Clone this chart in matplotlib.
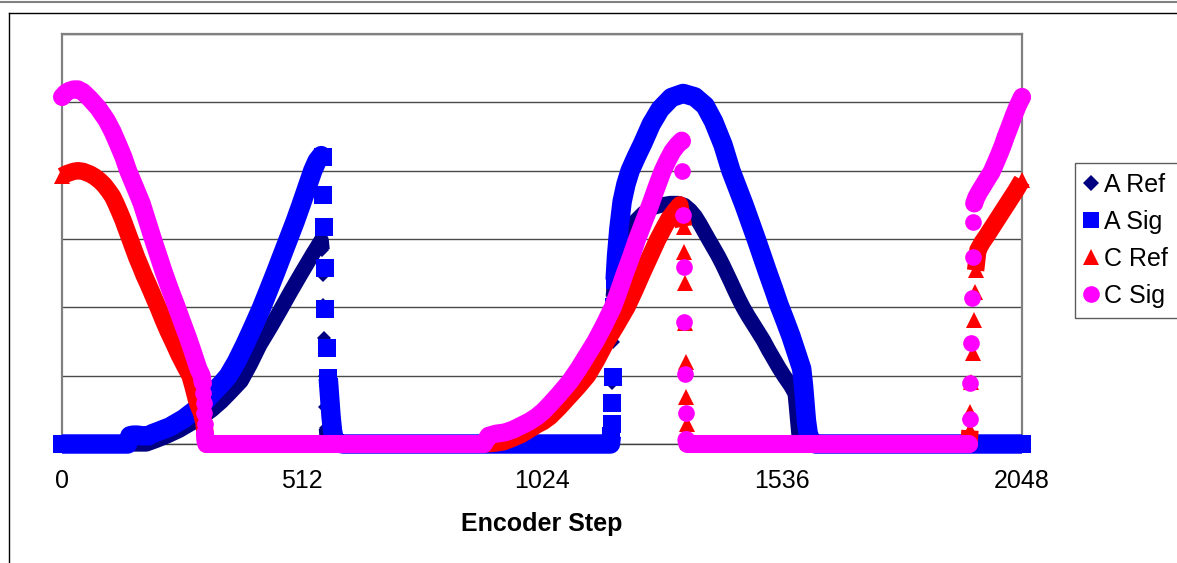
import numpy as np
import matplotlib
matplotlib.use("Agg")
import matplotlib.pyplot as plt
from matplotlib.lines import Line2D

plt.rcParams['font.family'] = ['Liberation Sans', 'DejaVu Sans']

# x ticks
tick_steps = [0, 512, 1024, 1536, 2048]
tick_labels = ["0", "512", "1024", "1536", "2048"]

# A Ref (navy diamonds)
a_ref_x = [0, 180, 200, 225, 250, 275, 300, 320, 340, 360, 382, 402, 422, 444, 465,
           487, 509, 522, 535, 544, 553,
           555, 556, 557, 558, 560, 562, 564, 566, 570, 900, 1170,
           1172, 1173, 1174, 1175, 1176, 1180, 1185, 1190, 1205, 1222, 1241, 1260,
           1280, 1298, 1315, 1328, 1340, 1351, 1361, 1370, 1379, 1390, 1400, 1409,
           1418, 1427, 1435, 1444, 1453, 1464, 1475, 1486, 1496, 1507, 1518, 1529,
           1540, 1548, 1555, 1564,
           1566, 1568, 1570, 1572, 1575, 1580, 2048]
a_ref_y = [0, 0, 0.05, 0.12, 0.2, 0.3, 0.4, 0.5, 0.62, 0.76, 0.92, 1.17, 1.45, 1.7, 1.95,
           2.22, 2.48, 2.63, 2.78, 2.88, 2.98,
           2.84, 2.47, 2.03, 1.55, 1.0, 0.54, 0.23, 0.05, 0, 0, 0,
           0.3, 0.6, 0.9, 1.5, 2.15, 2.5, 2.68, 2.8, 3.08, 3.25, 3.38, 3.46,
           3.5, 3.52, 3.52, 3.49, 3.42, 3.33, 3.22, 3.11, 3.0, 2.87, 2.75, 2.63,
           2.5, 2.37, 2.25, 2.12, 2.0, 1.87, 1.75, 1.63, 1.52, 1.38, 1.25, 1.12,
           1.0, 0.92, 0.85, 0.74,
           0.6, 0.45, 0.3, 0.15, 0.03, 0, 0]

# A Sig (blue squares)
a_sig_x = [0, 140, 145, 152, 160, 172, 185, 192, 200, 215, 230, 245, 260, 277, 294,
           310, 326, 340, 355, 372, 390, 408, 426, 440, 455, 469, 483, 497, 510,
           523, 535, 544, 553,
           556, 557, 558, 560, 562, 565, 568, 571, 574, 577, 580, 587, 600, 900, 1170,
           1172, 1173, 1174, 1175, 1178, 1180, 1183, 1188, 1195, 1203, 1212, 1225,
           1239, 1257, 1276, 1300, 1325, 1350, 1372, 1390, 1410, 1427, 1441, 1455,
           1468, 1481, 1493, 1505, 1518, 1530, 1543, 1555, 1567, 1578,
           1582, 1585, 1588, 1592, 1598, 1608, 1800, 2048]
a_sig_y = [0, 0, 0.12, 0.13, 0.13, 0.12, 0.12, 0.15, 0.17, 0.21, 0.25, 0.31, 0.37, 0.46, 0.55,
           0.66, 0.78, 0.88, 1.0, 1.2, 1.45, 1.72, 2.0, 2.24, 2.5, 2.75, 3.0, 3.25, 3.5,
           3.76, 4.0, 4.14, 4.22,
           4.2, 3.64, 3.17, 2.58, 1.98, 1.4, 0.96, 0.68, 0.4, 0.2, 0.08, 0.02, 0, 0, 0,
           0.12, 0.3, 0.6, 0.98, 2.0, 2.4, 2.75, 3.15, 3.55, 3.8, 4.0, 4.2,
           4.4, 4.68, 4.9, 5.07, 5.13, 5.08, 4.95, 4.72, 4.38, 4.0, 3.75, 3.5,
           3.25, 3.0, 2.76, 2.52, 2.27, 2.03, 1.8, 1.58, 1.33, 1.1,
           0.85, 0.6, 0.35, 0.15, 0.04, 0, 0, 0]

# C Ref (red triangles)
c_ref_x = [0, 8, 16, 25, 34, 45, 60, 70, 81, 90, 100, 108, 115, 122, 130, 138, 145,
           153, 160, 168, 175, 183, 190, 198, 205, 215, 225, 238, 250, 262, 273,
           280, 287, 293, 298, 303, 306, 308, 600, 900, 920, 941, 960, 980, 997,
           1013, 1027, 1041, 1060, 1080, 1100, 1121, 1140, 1160, 1183, 1205, 1222,
           1238, 1254, 1270, 1283, 1295, 1307, 1318,
           1326, 1327, 1328, 1329, 1331, 1332, 1334, 1336, 1338, 1600, 1935,
           1937, 1938, 1940, 1943, 1945, 1947, 1949, 1954, 1963, 1973, 1988, 2003,
           2019, 2035, 2048]
c_ref_y = [3.92, 3.95, 3.97, 3.99, 4.0, 3.99, 3.95, 3.91, 3.85, 3.79, 3.7, 3.62, 3.52,
           3.41, 3.28, 3.13, 3.0,
           2.85, 2.72, 2.59, 2.47, 2.35, 2.24, 2.11, 2.0, 1.83, 1.67, 1.48, 1.3, 1.14, 1.0,
           0.83, 0.64, 0.53, 0.45, 0.3, 0.1, 0, 0, 0, 0.01, 0.03, 0.08, 0.14, 0.21,
           0.28, 0.33, 0.4, 0.53, 0.68, 0.83, 1.0, 1.22, 1.48, 1.74, 2.0, 2.25,
           2.5, 2.74, 2.98, 3.15, 3.3, 3.41, 3.5,
           3.18, 2.81, 2.35, 1.77, 1.2, 0.69, 0.3, 0.03, 0, 0, 0,
           0.2, 0.47, 0.91, 1.33, 1.81, 2.23, 2.54, 2.84, 2.95, 3.05, 3.21, 3.37,
           3.54, 3.71, 3.86]

# C Sig (magenta circles)
c_sig_x = [0, 8, 16, 25, 34, 45, 60, 77, 95, 108, 120, 131, 141, 155, 170, 182, 194,
           205, 216, 230, 245, 256, 268, 280, 291, 298,
           300, 301, 302, 303, 304, 305, 306, 308, 600, 900, 910, 925, 945, 962, 980,
           997, 1013, 1027, 1041, 1062, 1084, 1102, 1120, 1138, 1155, 1175, 1188,
           1200, 1214, 1227, 1241, 1255, 1268, 1281, 1292, 1302, 1312, 1322,
           1323, 1324, 1326, 1327, 1329, 1331, 1332, 1334, 1600, 1935,
           1936, 1937, 1939, 1941, 1943, 1944, 1946, 1950, 1957, 1965, 1974, 1983,
           1992, 2000, 2007, 2013, 2022, 2030, 2039, 2048]
c_sig_y = [5.08, 5.14, 5.17, 5.19, 5.19, 5.15, 5.05, 4.92, 4.74, 4.57, 4.38, 4.2, 4.0,
           3.77, 3.52, 3.26, 3.0,
           2.77, 2.54, 2.27, 2.0, 1.79, 1.57, 1.33, 1.1, 1.0,
           0.9, 0.75, 0.6, 0.45, 0.3, 0.15, 0.05, 0, 0, 0, 0.12, 0.15, 0.17, 0.21, 0.27,
           0.33, 0.4, 0.48, 0.58, 0.74, 0.92, 1.1, 1.3, 1.5, 1.72, 2.0, 2.24,
           2.48, 2.74, 3.0, 3.25, 3.5, 3.75, 3.99, 4.15, 4.28, 4.37, 4.44,
           4.0, 3.35, 2.59, 1.78, 1.03, 0.45, 0.06, 0, 0, 0,
           0.36, 0.9, 1.48, 2.13, 2.74, 3.25, 3.52, 3.6, 3.69, 3.78, 3.88, 3.98,
           4.12, 4.25, 4.37, 4.49, 4.65, 4.8, 4.95, 5.08]

series = [
    ("A Ref", a_ref_x, a_ref_y, "#000080", "D", 7.0, 11.0, "butt"),
    ("A Sig", a_sig_x, a_sig_y, "#0000FF", "s", 12.5, 14.0, "butt"),
    ("C Ref", c_ref_x, c_ref_y, "#FF0000", "^", 11.0, 12.5, "butt"),
    ("C Sig", c_sig_x, c_sig_y, "#FF00FF", "o", 12.0, 13.0, "round"),
]

fig = plt.figure(figsize=(11.77, 5.63), dpi=100)
ax = fig.add_axes([62 / 1177, 1 - 444 / 563, 960 / 1177, 410 / 563])

z = 3
for name, xs, ys, col, mk, ms, lw, cap in series:
    # dense samples merge into a thick band; steep jumps stay as separate marks
    n = len(xs)
    joined = [abs(ys[i + 1] - ys[i]) / (xs[i + 1] - xs[i]) <= 0.12 for i in range(n - 1)]
    lx, ly, mx, my = [], [], [], []
    for i in range(n):
        if i > 0 and not joined[i - 1]:
            lx.append(np.nan)
            ly.append(np.nan)
        lx.append(xs[i])
        ly.append(ys[i])
        inner = 0 < i < n - 1 and joined[i - 1] and joined[i]
        if not inner:
            mx.append(xs[i])
            my.append(ys[i])
    ax.plot(lx, ly, color=col, lw=lw, solid_capstyle=cap, solid_joinstyle="round",
            zorder=z, clip_on=False)
    ax.plot(mx, my, ls="none", marker=mk, ms=ms, mfc=col, mec=col, mew=0,
            zorder=z, clip_on=False)
    z += 1

ax.set_xlim(0, 2048)
ax.set_ylim(0, 6)
ax.set_yticks(range(0, 7))
ax.set_yticklabels([])
ax.set_xticks(tick_steps, labels=tick_labels)
ax.tick_params(axis="x", length=0, pad=18, labelsize=18)
ax.tick_params(axis="y", length=0)
ax.grid(axis="y", color="#4a4a4a", lw=1)
ax.set_axisbelow(True)
for s in ["top", "left", "right"]:
    ax.spines[s].set_color("#808080")
    ax.spines[s].set_linewidth(1.6)
ax.spines["bottom"].set_color("#404040")
ax.spines["bottom"].set_linewidth(1)

fig.text(542 / 1177, 1 - 531 / 563, "Encoder Step", ha="center", va="baseline",
         fontsize=18, fontweight="bold")

leg_sizes = {"D": 8.5, "s": 12, "^": 12, "o": 12}
handles = [Line2D([], [], ls="none", marker=mk, ms=leg_sizes[mk],
                  mfc=col, mec=col, mew=0)
           for name, xs, ys, col, mk, ms, lw, cap in series]
labels = [s[0] for s in series]
leg = fig.legend(handles, labels, loc="upper left",
                 bbox_to_anchor=(1075 / 1177, 1 - 163 / 563),
                 bbox_transform=fig.transFigure, fontsize=18, frameon=True,
                 fancybox=False, edgecolor="#333333", borderpad=0.4,
                 labelspacing=0.52, handlelength=0.5, handletextpad=0.26,
                 borderaxespad=0)
leg.get_frame().set_linewidth(1.0)

# outer chart frame
fig.add_artist(Line2D([0, 1], [1 - 1.5 / 563, 1 - 1.5 / 563], color="#808080", lw=1.5,
                      transform=fig.transFigure))
fig.add_artist(Line2D([9 / 1177, 1], [1 - 13 / 563, 1 - 13 / 563], color="black", lw=1,
                      transform=fig.transFigure))
fig.add_artist(Line2D([9 / 1177, 9 / 1177], [0, 1 - 13 / 563], color="black", lw=1,
                      transform=fig.transFigure))

fig.savefig("out.png", dpi=100)
